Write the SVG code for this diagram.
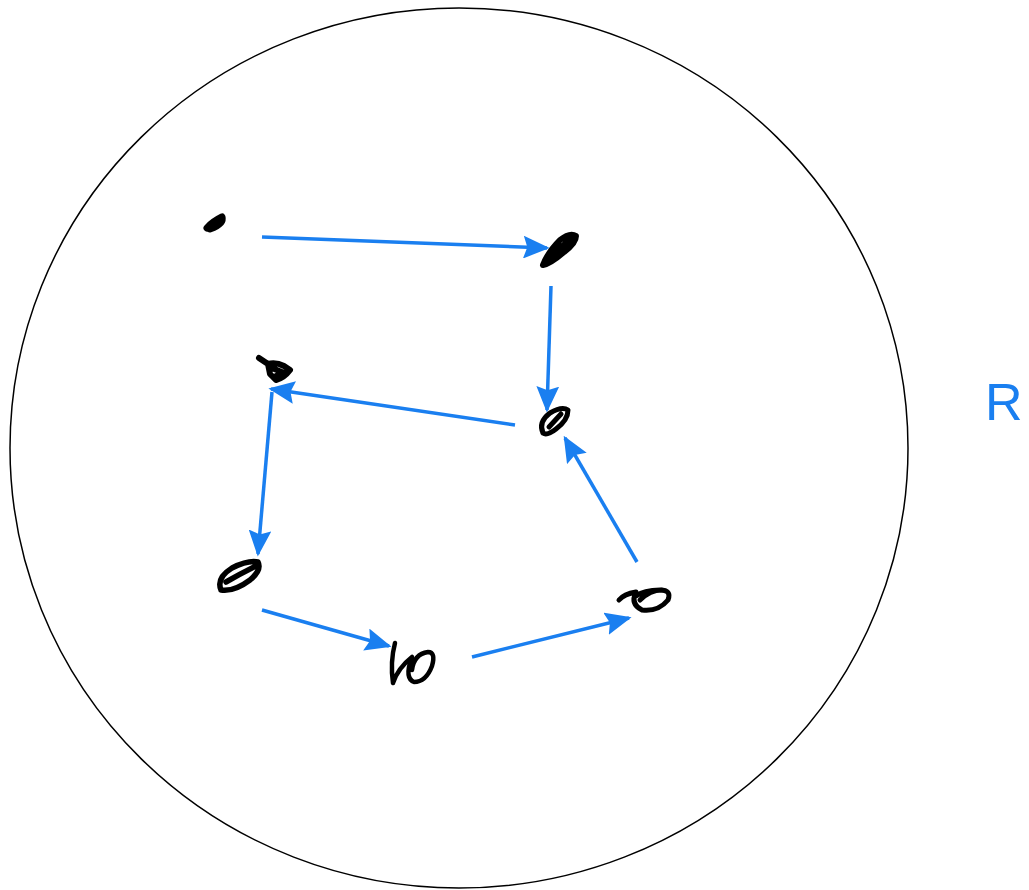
<svg xmlns="http://www.w3.org/2000/svg" width="1029" height="890" viewBox="0 0 1029 890">
<style>
.edge{stroke:#1a7ff0;stroke-width:3.5;fill:none;marker-end:url(#ah)}
.ink{stroke:#000;fill:none;stroke-linecap:round;stroke-linejoin:round}
.lbl{font-family:"Liberation Sans",Arial,sans-serif;font-size:52px;fill:#1a7ff0}
</style>
<defs>
<marker id="ah" viewBox="0 0 10 10" refX="9" refY="5" markerWidth="7.5" markerHeight="6.5" preserveAspectRatio="none" orient="auto" markerUnits="strokeWidth">
<path d="M0,0 L10,5 L0,10 L1.5,5 z" fill="#1a7ff0"/>
</marker>
</defs>
<rect width="1029" height="890" fill="#fff"/>
<g id="boundary">
<ellipse cx="459" cy="448" rx="449" ry="440" fill="none" stroke="#000" stroke-width="1.5"/>
<text class="lbl" x="985" y="420">R</text>
</g>
<g id="connectors">
<line class="edge" x1="262" y1="237" x2="547" y2="248"/>
<line class="edge" x1="551" y1="286" x2="547" y2="410"/>
<line class="edge" x1="515" y1="425" x2="271" y2="389"/>
<line class="edge" x1="272" y1="392" x2="258" y2="554"/>
<line class="edge" x1="262" y1="610" x2="389" y2="646"/>
<line class="edge" x1="472" y1="657" x2="629" y2="618"/>
<line class="edge" x1="637" y1="562" x2="565" y2="438"/>
</g>
<g id="n1"><path class="ink" stroke-width="7" d="M207,228 Q212,222 222,217 Q224,224 210,229"/></g>
<g id="n2"><path class="ink" stroke-width="6" d="M543,265 Q548,252 560,240 Q570,232 576,236 Q576,243 564,252 Q550,264 543,265 M548,258 L572,238"/></g>
<g id="n3"><path class="ink" stroke-width="6" d="M259,358 L268,364 Q276,362 284,366 L290,370 Q284,378 276,380 L270,374 L268,364 M272,368 L284,373 L276,376"/></g>
<g id="n4"><path class="ink" stroke-width="5" d="M543,433 Q538,422 550,413 Q562,406 568,410 Q568,420 556,429 Q547,436 543,433 M549,427 L561,414"/></g>
<g id="n5"><path class="ink" stroke-width="5.5" d="M221,590 Q216,578 232,568 Q248,560 258,562 Q262,570 250,580 Q234,592 221,590 M226,582 Q240,574 256,566"/></g>
<g id="n6"><path class="ink" stroke-width="4.5" d="M395,643 Q390,662 393,683 M393,683 Q398,668 412,657 Q404,678 414,682 Q426,682 432,666 Q436,652 428,652 Q414,654 412,670"/></g>
<g id="n7"><path class="ink" stroke-width="5" d="M619,600 Q624,594 636,592 Q630,604 642,610 Q658,612 668,600 Q672,590 660,590 Q644,590 636,596 M640,600 Q650,590 662,590"/></g>
</svg>
